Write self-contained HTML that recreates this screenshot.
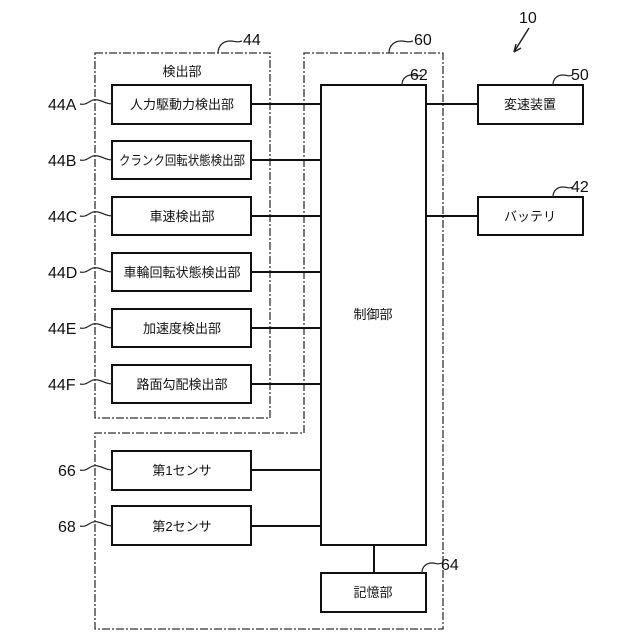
<!DOCTYPE html>
<html><head><meta charset="utf-8"><style>
html,body{margin:0;padding:0;background:#fff}
svg{display:block}
text{font-family:"Liberation Sans","Noto Sans CJK JP",sans-serif;fill:#111}
.j{font-size:13px}
.n{font-size:16px}
</style></head><body>
<svg width="640" height="640" viewBox="0 0 640 640">
<g fill="none" stroke="#333" stroke-width="1.3" stroke-dasharray="8,2,2,2">
<rect x="95" y="53" width="175" height="365"/>
<path d="M304 433V53H443V629H95V433H304"/>
</g>
<g fill="#fff" stroke="#111" stroke-width="2">
<rect x="112" y="85" width="139" height="39"/>
<rect x="112" y="141" width="139" height="38"/>
<rect x="112" y="197" width="139" height="38"/>
<rect x="112" y="253" width="139" height="38"/>
<rect x="112" y="309" width="139" height="38"/>
<rect x="112" y="365" width="139" height="38"/>
<rect x="112" y="451" width="139" height="39"/>
<rect x="112" y="506" width="139" height="39"/>
<rect x="321" y="85" width="105" height="460"/>
<rect x="321" y="573" width="105" height="39"/>
<rect x="478" y="85" width="105" height="39"/>
<rect x="478" y="197" width="105" height="38"/>
</g>
<g stroke="#111" stroke-width="2">
<path d="M251 104H321M251 160H321M251 216H321M251 272H321M251 328H321M251 384H321M251 470H321M251 526H321M426 104H478M426 216H478M374 545V573"/>
</g>
<g fill="none" stroke="#222" stroke-width="1.2">
<path d="M80 104c8 2 10-6 18-4s8 4 14 4"/>
<path d="M80 160c8 2 10-6 18-4s8 4 14 4"/>
<path d="M80 216c8 2 10-6 18-4s8 4 14 4"/>
<path d="M80 272c8 2 10-6 18-4s8 4 14 4"/>
<path d="M80 328c8 2 10-6 18-4s8 4 14 4"/>
<path d="M80 384c8 2 10-6 18-4s8 4 14 4"/>
<path d="M80 470c8 2 10-6 18-4s8 4 14 4"/>
<path d="M80 526c8 2 10-6 18-4s8 4 14 4"/>
<path d="M218 53c0-8 6-12 12-12s6 2 12 0"/>
<path d="M389 53c0-8 6-12 12-12s6 2 12 0"/>
<path d="M402 85c0-7 5-10 10-10s5 2 10 0"/>
<path d="M553 85c0-7 5-10 10-10s5 2 10 0"/>
<path d="M553 197c0-7 5-10 10-10s5 2 10 0"/>
<path d="M422 573c0-7 5-10 10-10s5 2 10 0"/>
<path d="M529 28L514 52M514 52l2-8M514 52l7-4" stroke-width="1.5"/>
</g>
<g class="n">
<text x="48" y="110">44A</text>
<text x="48" y="166">44B</text>
<text x="48" y="222">44C</text>
<text x="48" y="278">44D</text>
<text x="48" y="334">44E</text>
<text x="48" y="390">44F</text>
<text x="58" y="476">66</text>
<text x="58" y="532">68</text>
<text x="243" y="45">44</text>
<text x="414" y="45">60</text>
<text x="410" y="80">62</text>
<text x="571" y="80">50</text>
<text x="571" y="192">42</text>
<text x="441" y="570">64</text>
<text x="519" y="23">10</text>
</g>
<g class="j" text-anchor="middle">
<text x="182" y="76">検出部</text>
<text x="182" y="109">人力駆動力検出部</text>
<text x="182" y="165" textLength="126" lengthAdjust="spacingAndGlyphs">クランク回転状態検出部</text>
<text x="182" y="221">車速検出部</text>
<text x="182" y="277">車輪回転状態検出部</text>
<text x="182" y="333">加速度検出部</text>
<text x="182" y="389">路面勾配検出部</text>
<text x="182" y="475">第1センサ</text>
<text x="182" y="531">第2センサ</text>
<text x="373" y="319">制御部</text>
<text x="373" y="597">記憶部</text>
<text x="530" y="109">変速装置</text>
<text x="530" y="221">バッテリ</text>
</g>
</svg>
</body></html>
